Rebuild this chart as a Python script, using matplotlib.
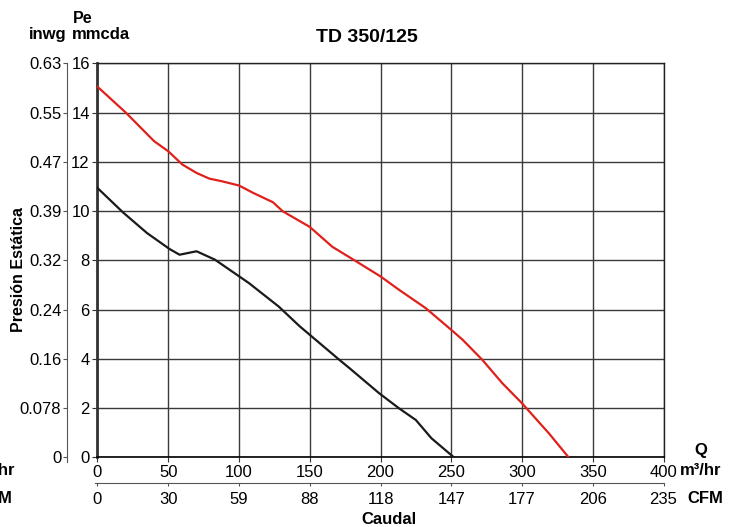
import matplotlib
matplotlib.use('Agg')
import matplotlib.pyplot as plt

plt.rcParams['font.family'] = ['Liberation Sans', 'DejaVu Sans']

# curva roja (superior)
q_red = [0, 20, 40, 50, 60, 70, 79, 88, 100, 110, 124, 131, 150, 166, 182, 200,
         213, 232, 250, 258, 272, 286, 300, 319, 333]
p_red = [15.05, 14.0, 12.84, 12.43, 11.89, 11.55, 11.32, 11.21, 11.04, 10.74, 10.36,
         9.99, 9.36, 8.55, 7.99, 7.35, 6.81, 6.06, 5.18, 4.78, 3.96, 3.02, 2.2, 0.98, 0.0]

# curva negra (inferior)
q_blk = [0, 18, 35, 51, 58, 64, 70, 83, 107, 128, 143, 150, 171, 178, 199, 213,
         225, 236, 252]
p_blk = [10.94, 9.95, 9.11, 8.46, 8.23, 8.30, 8.37, 8.03, 7.08, 6.13, 5.32, 4.98,
         3.96, 3.63, 2.61, 2.0, 1.52, 0.78, 0.0]

x_ticks = [0, 50, 100, 150, 200, 250, 300, 350, 400]
cfm_labels = ['0', '30', '59', '88', '118', '147', '177', '206', '235']
y_ticks = [0, 2, 4, 6, 8, 10, 12, 14, 16]
inwg_labels = ['0', '0.078', '0.16', '0.24', '0.32', '0.39', '0.47', '0.55', '0.63']

fig = plt.figure(figsize=(7.29, 5.27), dpi=100)
ax = fig.add_axes([0.1337, 0.1319, 0.7765, 0.748])

ax.plot(q_red, p_red, color='#e0201b', lw=1.6, zorder=3)
ax.plot(q_blk, p_blk, color='#1a1a1a', lw=1.6, zorder=3)

ax.set_xlim(0, 400)
ax.set_ylim(0, 16)
ax.set_xticks(x_ticks)
ax.set_yticks(y_ticks)
ax.tick_params(labelsize=12, length=3.5, color='#333333')
ax.tick_params(axis='x', pad=2)
ax.tick_params(axis='y', pad=2)
ax.grid(True, color='#3a3a3a', lw=1.0)
for s in ['top', 'right']:
    ax.spines[s].set_color('#222222')
    ax.spines[s].set_linewidth(1.0)
ax.spines['left'].set_linewidth(2.0)
ax.spines['left'].set_color('#333333')
ax.spines['bottom'].set_linewidth(1.2)

# eje secundario inwg
ax_in = ax.twinx()
ax_in.set_ylim(0, 16)
ax_in.yaxis.tick_left()
ax_in.spines['left'].set_position(('outward', 22))
ax_in.spines['left'].set_bounds(-0.2, 16)
ax_in.spines['left'].set_color('#555555')
for s in ['right', 'top', 'bottom']:
    ax_in.spines[s].set_visible(False)
ax_in.set_yticks(y_ticks)
ax_in.set_yticklabels(inwg_labels)
ax_in.tick_params(labelsize=12, length=3, pad=1, color='#555555')

# eje secundario CFM
ax_cfm = ax.twiny()
ax_cfm.set_xlim(0, 400)
ax_cfm.xaxis.tick_bottom()
ax_cfm.spines['bottom'].set_position(('outward', 18.5))
ax_cfm.spines['bottom'].set_bounds(-2, 400)
ax_cfm.spines['bottom'].set_color('#555555')
for s in ['right', 'top', 'left']:
    ax_cfm.spines[s].set_visible(False)
ax_cfm.set_xticks(x_ticks)
ax_cfm.set_xticklabels(cfm_labels)
ax_cfm.tick_params(labelsize=12, length=2.5, pad=3.5, color='#555555')

fig.text(0.5035, 0.921, 'TD 350/125', ha='center', va='baseline', fontsize=14, fontweight='bold')
fig.text(0.100, 0.9558, 'Pe', ha='left', va='baseline', fontsize=11.5, fontweight='bold')
fig.text(0.098, 0.926, 'mmcda', ha='left', va='baseline', fontsize=12, fontweight='bold')
fig.text(0.040, 0.926, 'inwg', ha='left', va='baseline', fontsize=12, fontweight='bold')
fig.text(0.0247, 0.488, 'Presión Estática', ha='center', va='center', rotation=90,
         fontsize=11.5, fontweight='bold')
fig.text(0.5336, 0.0133, 'Caudal', ha='center', va='center', fontsize=12, fontweight='bold')
fig.text(0.962, 0.1366, 'Q', ha='center', va='baseline', fontsize=12, fontweight='bold')
fig.text(0.933, 0.0987, 'm³/hr', ha='left', va='baseline', fontsize=12, fontweight='bold')
fig.text(0.943, 0.045, 'CFM', ha='left', va='baseline', fontsize=12, fontweight='bold')
fig.text(0.0206, 0.0987, 'm³/hr', ha='right', va='baseline', fontsize=12, fontweight='bold')
fig.text(0.0165, 0.045, 'CFM', ha='right', va='baseline', fontsize=12, fontweight='bold')

fig.savefig('out.png', dpi=100)
